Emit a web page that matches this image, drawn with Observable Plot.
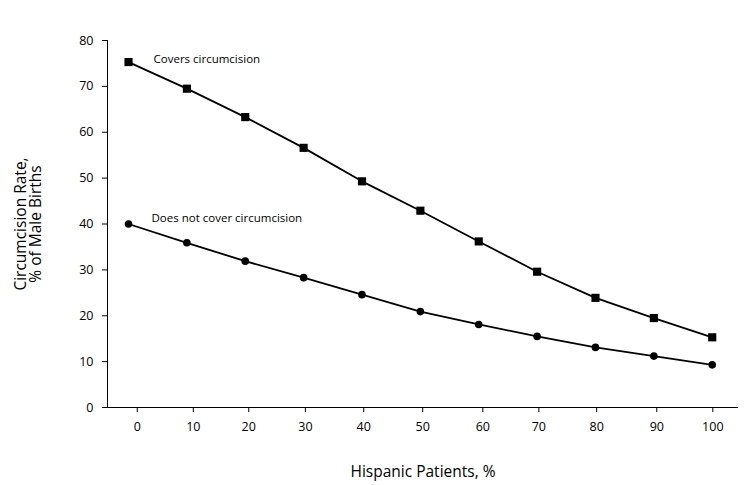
<!DOCTYPE html>
<html>
<head>
<meta charset="utf-8">
<script src="https://cdn.jsdelivr.net/npm/d3@7"></script>
<script src="https://cdn.jsdelivr.net/npm/@observablehq/plot@0.6"></script>
<style>
  html, body { margin: 0; padding: 0; background: #fff; }
</style>
</head>
<body>
<div id="chart"></div>
<script>
// Hispanic patients, % (data points)
const hispanicPct = [0, 10, 20, 30, 40, 50, 60, 70, 80, 90, 100];
// Circumcision rate, % of male births
const coversRate    = [75.3, 69.5, 63.3, 56.6, 49.3, 42.9, 36.2, 29.6, 23.9, 19.5, 15.3];
const notCoverRate  = [40.0, 35.9, 31.9, 28.3, 24.6, 20.9, 18.1, 15.5, 13.1, 11.2, 9.3];
const seriesNames = ["Covers circumcision", "Does not cover circumcision"];
// x-axis tick labels and where they sit in the original figure
const xTickLabels = ["0", "10", "20", "30", "40", "50", "60", "70", "80", "90", "100"];
const xTickPos    = [1.5, 11.1, 20.6, 30.3, 40.3, 50.4, 60.7, 70.3, 80.2, 90.5, 100.1];
const yTicks = [0, 10, 20, 30, 40, 50, 60, 70, 80];

const covers = hispanicPct.map((x, i) => ({x, y: coversRate[i], s: seriesNames[0]}));
const notCover = hispanicPct.map((x, i) => ({x, y: notCoverRate[i], s: seriesNames[1]}));

const hasAxisMarks = typeof Plot.axisX === "function";
const xAxisOpts = {ticks: xTickPos, tickFormat: (d, i) => xTickLabels[i], tickSize: 5, tickPadding: 10, label: null};
const yAxisOpts = {ticks: yTicks, tickSize: 5, tickPadding: 9, label: null};

const axisMarks = hasAxisMarks ? [
  Plot.axisX({...xAxisOpts, tickFormat: d => xTickLabels[xTickPos.indexOf(d)], fontSize: 12.5, stroke: "#000", fill: "#000"}),
  Plot.axisY({...yAxisOpts, fontSize: 12.5, stroke: "#000", fill: "#000"}),
  Plot.ruleY([0], {stroke: "#000"}),
  Plot.frame({anchor: "left", stroke: "#000"})
] : [];

const chart = Plot.plot({
  width: 750,
  height: 485,
  marginLeft: 107,
  marginRight: 12,
  marginTop: 40,
  marginBottom: 78,
  style: {fontFamily: "'Open Sans', sans-serif", fontSize: "12.5px", color: "#000", background: "#fff"},
  x: hasAxisMarks ? {domain: [-3.6, 104.5]} : {domain: [-3.6, 104.5], ...xAxisOpts, line: true},
  y: hasAxisMarks ? {domain: [0, 80]} : {domain: [0, 80], ...yAxisOpts, line: true},
  marks: [
    ...axisMarks,
    Plot.line(covers, {x: "x", y: "y", stroke: "#000", strokeWidth: 1.8}),
    Plot.line(notCover, {x: "x", y: "y", stroke: "#000", strokeWidth: 1.8}),
    Plot.dot(covers, {x: "x", y: "y", symbol: "square", r: 4.6, fill: "#000", stroke: "none"}),
    Plot.dot(notCover, {x: "x", y: "y", symbol: "circle", r: 3.8, fill: "#000", stroke: "none"}),
    Plot.text([covers[0]], {x: "x", y: "y", text: "s", textAnchor: "start", dx: 25, dy: -3, fontSize: 11.5, fill: "#000"}),
    Plot.text([notCover[0]], {x: "x", y: "y", text: "s", textAnchor: "start", dx: 23, dy: -6, fontSize: 11.5, fill: "#000"}),
    Plot.text(["Hispanic Patients, %"], {text: d => d, frameAnchor: "bottom", textAnchor: "middle", lineAnchor: "middle", dy: 65, fontSize: 15.5, fill: "#000"}),
    Plot.text(["Circumcision Rate,\n% of Male Births"], {text: d => d, frameAnchor: "left", textAnchor: "middle", lineAnchor: "middle", rotate: -90, dx: -79, fontSize: 15.5, lineHeight: 1.0, fill: "#000"})
  ]
});
document.getElementById("chart").appendChild(chart);
</script>
</body>
</html>
